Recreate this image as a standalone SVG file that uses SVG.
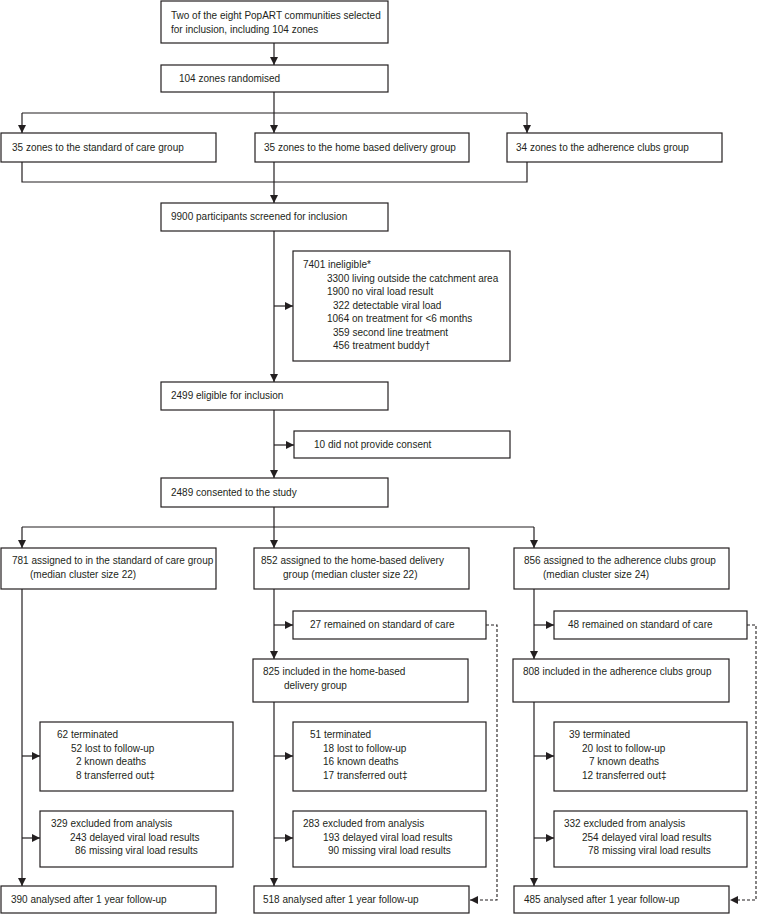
<svg xmlns="http://www.w3.org/2000/svg" width="757" height="915" viewBox="0 0 757 915">
<style>
.b{fill:#fff;stroke:#231f20;stroke-width:1.2}
text{font-family:"Liberation Sans",Arial,sans-serif;font-size:10px;fill:#231f20}
.c{fill:none;stroke:#231f20;stroke-width:1.2}
.d{fill:none;stroke:#231f20;stroke-width:1.1;stroke-dasharray:3,2}
</style>
<defs>
<marker id="a" markerUnits="userSpaceOnUse" markerWidth="9" markerHeight="8" refX="8" refY="4" orient="auto"><path d="M0,0 L8,4 L0,8 z" fill="#231f20"/></marker>
</defs>
<rect width="757" height="915" fill="#fff"/>
<g id="connectors">
<path class="c" d="M274,43 V65" marker-end="url(#a)"/>
<path class="c" d="M274,92 V133" marker-end="url(#a)"/>
<path class="c" d="M22,113 H527"/>
<path class="c" d="M22,113 V133" marker-end="url(#a)"/>
<path class="c" d="M527,113 V133" marker-end="url(#a)"/>
<path class="c" d="M22,162 V182 H527 V162"/>
<path class="c" d="M274,162 V203" marker-end="url(#a)"/>
<path class="c" d="M274,231 V382" marker-end="url(#a)"/>
<path class="c" d="M274,306 H293" marker-end="url(#a)"/>
<path class="c" d="M274,410 V478" marker-end="url(#a)"/>
<path class="c" d="M274,445 H294" marker-end="url(#a)"/>
<path class="c" d="M274,507 V548" marker-end="url(#a)"/>
<path class="c" d="M22,527 H534"/>
<path class="c" d="M22,527 V548" marker-end="url(#a)"/>
<path class="c" d="M534,527 V548" marker-end="url(#a)"/>
<path class="c" d="M22,589 V886" marker-end="url(#a)"/>
<path class="c" d="M22,756 H40" marker-end="url(#a)"/>
<path class="c" d="M22,838 H40" marker-end="url(#a)"/>
<path class="c" d="M274,589 V659" marker-end="url(#a)"/>
<path class="c" d="M274,625 H293" marker-end="url(#a)"/>
<path class="c" d="M274,702 V886" marker-end="url(#a)"/>
<path class="c" d="M274,756 H293" marker-end="url(#a)"/>
<path class="c" d="M274,838 H293" marker-end="url(#a)"/>
<path class="c" d="M534,589 V659" marker-end="url(#a)"/>
<path class="c" d="M534,625 H554" marker-end="url(#a)"/>
<path class="c" d="M534,702 V886" marker-end="url(#a)"/>
<path class="c" d="M534,756 H554" marker-end="url(#a)"/>
<path class="c" d="M534,838 H554" marker-end="url(#a)"/>
<path class="d" d="M486,625 H497 V900 H470" marker-end="url(#a)"/>
<path class="d" d="M747,625 H756 V900 H730" marker-end="url(#a)"/>
</g>
<g id="n1"><rect class="b" x="161" y="1" width="227" height="42"/><text x="171" y="19">Two of the eight PopART communities selected</text><text x="171" y="33">for inclusion, including 104 zones</text></g>
<g id="n2"><rect class="b" x="161" y="65" width="227" height="27"/><text x="179" y="82">104 zones randomised</text></g>
<g id="n3"><rect class="b" x="1" y="133" width="215" height="29"/><text x="12" y="151">35 zones to the standard of care group</text></g>
<g id="n4"><rect class="b" x="255" y="133" width="214" height="29"/><text x="264" y="151">35 zones to the home based delivery group</text></g>
<g id="n5"><rect class="b" x="507" y="133" width="215" height="29"/><text x="516" y="151">34 zones to the adherence clubs group</text></g>
<g id="n6"><rect class="b" x="161" y="203" width="227" height="28"/><text x="171" y="220">9900 participants screened for inclusion</text></g>
<g id="n7"><rect class="b" x="293" y="251" width="217" height="110"/>
<text x="303" y="268">7401 ineligible*</text>
<text x="327" y="282">3300 living outside the catchment area</text>
<text x="327" y="295">1900 no viral load result</text>
<text x="333" y="309">322 detectable viral load</text>
<text x="327" y="322">1064 on treatment for &lt;6 months</text>
<text x="333" y="336">359 second line treatment</text>
<text x="333" y="349">456 treatment buddy†</text></g>
<g id="n8"><rect class="b" x="161" y="382" width="227" height="28"/><text x="171" y="399">2499 eligible for inclusion</text></g>
<g id="n9"><rect class="b" x="294" y="431" width="216" height="27"/><text x="314" y="448">10 did not provide consent</text></g>
<g id="n10"><rect class="b" x="161" y="478" width="227" height="29"/><text x="171" y="496">2489 consented to the study</text></g>
<g id="n11"><rect class="b" x="1" y="548" width="215" height="41"/><text x="12" y="564">781 assigned to in the standard of care group</text><text x="30" y="578">(median cluster size 22)</text></g>
<g id="n12"><rect class="b" x="254" y="548" width="215" height="41"/><text x="261" y="564">852 assigned to the home-based delivery</text><text x="283" y="578">group (median cluster size 22)</text></g>
<g id="n13"><rect class="b" x="514" y="548" width="215" height="41"/><text x="524" y="564">856 assigned to the adherence clubs group</text><text x="543" y="578">(median cluster size 24)</text></g>
<g id="n14"><rect class="b" x="293" y="611" width="193" height="28"/><text x="310" y="628">27 remained on standard of care</text></g>
<g id="n15"><rect class="b" x="554" y="611" width="193" height="28"/><text x="568" y="628">48 remained on standard of care</text></g>
<g id="n16"><rect class="b" x="253" y="659" width="215" height="43"/><text x="263" y="675">825 included in the home-based</text><text x="284" y="689">delivery group</text></g>
<g id="n17"><rect class="b" x="513" y="659" width="216" height="43"/><text x="523" y="675">808 included in the adherence clubs group</text></g>
<g id="n18"><rect class="b" x="40" y="722" width="193" height="69"/>
<text x="57" y="738">62 terminated</text><text x="71" y="752">52 lost to follow-up</text><text x="76" y="765">2 known deaths</text><text x="76" y="779">8 transferred out‡</text></g>
<g id="n19"><rect class="b" x="293" y="722" width="193" height="69"/>
<text x="310" y="738">51 terminated</text><text x="323" y="752">18 lost to follow-up</text><text x="323" y="765">16 known deaths</text><text x="323" y="779">17 transferred out‡</text></g>
<g id="n20"><rect class="b" x="554" y="722" width="193" height="69"/>
<text x="569" y="738">39 terminated</text><text x="582" y="752">20 lost to follow-up</text><text x="589" y="765">7 known deaths</text><text x="582" y="779">12 transferred out‡</text></g>
<g id="n21"><rect class="b" x="40" y="811" width="193" height="56"/>
<text x="51" y="827">329 excluded from analysis</text><text x="70" y="841">243 delayed viral load results</text><text x="75" y="854">86 missing viral load results</text></g>
<g id="n22"><rect class="b" x="293" y="811" width="193" height="56"/>
<text x="303" y="827">283 excluded from analysis</text><text x="323" y="841">193 delayed viral load results</text><text x="328" y="854">90 missing viral load results</text></g>
<g id="n23"><rect class="b" x="554" y="811" width="193" height="56"/>
<text x="564" y="827">332 excluded from analysis</text><text x="582" y="841">254 delayed viral load results</text><text x="588" y="854">78 missing viral load results</text></g>
<g id="n24"><rect class="b" x="1" y="886" width="215" height="27"/><text x="11" y="903">390 analysed after 1 year follow-up</text></g>
<g id="n25"><rect class="b" x="254" y="886" width="215" height="27"/><text x="263" y="903">518 analysed after 1 year follow-up</text></g>
<g id="n26"><rect class="b" x="514" y="886" width="215" height="27"/><text x="524" y="903">485 analysed after 1 year follow-up</text></g>
</svg>
